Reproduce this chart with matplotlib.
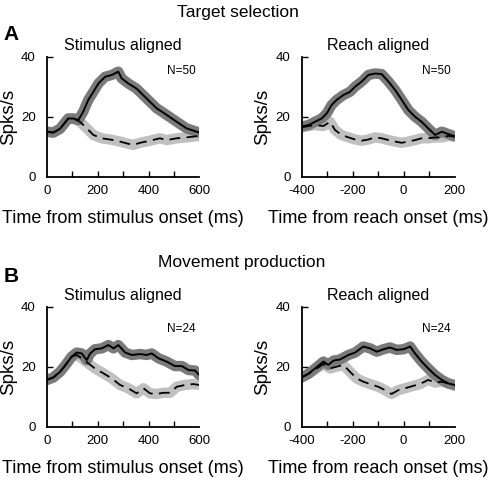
import matplotlib
matplotlib.use("Agg")
import matplotlib.pyplot as plt
import numpy as np

plt.rcParams['font.family'] = ['Liberation Sans', 'DejaVu Sans']

# ---------------- data ----------------
# Target selection, stimulus aligned (N=50)
a_stim_t_pref = [0, 25, 52, 84, 104, 124, 143, 163, 183, 203, 229, 255, 281, 294, 320, 352, 392, 432, 471, 511, 550, 600]
a_stim_pref   = [15, 14.7, 16, 19.4, 19.4, 18.9, 21.7, 25.6, 28.3, 31.1, 33.3, 33.9, 35, 32.8, 31.1, 29.4, 26.1, 22.8, 20.6, 18.3, 16.1, 14.7]
a_stim_t_null = [0, 25, 52, 84, 104, 130, 157, 183, 216, 248, 288, 314, 340, 367, 406, 445, 471, 511, 550, 600]
a_stim_null   = [15, 14.7, 16, 19.4, 19.4, 18.3, 16.1, 13.9, 12.8, 12.4, 11.7, 11.1, 10.6, 11.3, 12.0, 12.8, 12.2, 12.8, 13.1, 13.6]

# Target selection, reach aligned (N=50)
a_reach_t_pref = [-400, -373, -347, -321, -301, -282, -262, -236, -210, -190, -164, -138, -112, -86, -59, -33, -7, 19, 45, 71, 97, 124, 150, 176, 200]
a_reach_pref   = [16.7, 17.2, 18.3, 19.4, 21.1, 23.9, 25.6, 27.2, 28.3, 30, 31.7, 33.9, 34.4, 34.2, 31.7, 28.9, 25.6, 22.2, 20, 18.3, 16.1, 13.9, 15, 14.2, 13.5]
a_reach_t_null = [-400, -373, -347, -314, -288, -269, -243, -216, -190, -164, -138, -112, -86, -59, -33, -7, 19, 45, 71, 97, 124, 150, 176, 200]
a_reach_null   = [16.4, 16.9, 17.2, 16.9, 18.3, 15.6, 13.9, 13.1, 12.4, 12, 12.4, 13.1, 12.8, 12.2, 11.7, 11.3, 11.7, 12.2, 12.8, 12.8, 13.1, 13.1, 13.6, 13.3]

# Movement production, stimulus aligned (N=24)
b_stim_t_pref = [0, 25, 52, 78, 97, 117, 137, 157, 170, 189, 216, 242, 262, 281, 308, 334, 367, 393, 413, 439, 471, 504, 531, 557, 583, 600]
b_stim_pref   = [15.6, 16.4, 18.3, 21.1, 23.3, 24.7, 24.4, 22.2, 24.4, 25.8, 26.1, 27.2, 26.1, 27.2, 24.7, 23.9, 24.2, 23.9, 24.4, 22.8, 21.7, 20.2, 20.2, 18.9, 18.7, 17.2]
b_stim_t_null = [0, 25, 52, 78, 97, 117, 137, 163, 189, 222, 255, 288, 320, 353, 380, 406, 432, 458, 485, 511, 544, 576, 600]
b_stim_null   = [15.6, 16.4, 18.3, 21.1, 23.3, 23.9, 22.8, 21.1, 19.4, 17.8, 16.1, 13.9, 12.8, 11.1, 12.8, 11.1, 10.9, 11.3, 11.3, 13.3, 13.9, 14.2, 13.9]

# Movement production, reach aligned (N=24)
b_reach_t_pref = [-400, -373, -347, -314, -295, -275, -249, -216, -190, -158, -131, -105, -79, -53, -27, 0, 26, 45, 71, 97, 124, 150, 176, 200]
b_reach_pref   = [16.4, 17.6, 19.4, 21.7, 20.6, 22, 22.4, 23.9, 24.7, 26.7, 26.1, 25, 25.8, 26.4, 25.6, 25.8, 26.7, 24.4, 21.7, 19.4, 17.2, 15.6, 14.4, 13.9]
b_reach_t_null = [-400, -360, -314, -288, -262, -236, -210, -184, -158, -131, -99, -73, -47, -20, 6, 38, 64, 97, 124, 150, 176, 200]
b_reach_null   = [16.4, 18.3, 20.9, 19.4, 20, 20.6, 18.3, 16.1, 15, 14.2, 13.3, 12.2, 10.9, 12.2, 12.8, 13.6, 14.2, 15.6, 14.7, 15, 14.4, 13.6]

stim_ticks = [0, 100, 200, 300, 400, 500, 600]
stim_labels = ['0', '', '200', '', '400', '', '600']
reach_ticks = [-400, -300, -200, -100, 0, 100, 200]
reach_labels = ['-400', '', '-200', '', '0', '', '200']
y_ticks = [0, 20, 40]

panels = [
    ([0.0946, 0.6319, 0.3073, 0.25], a_stim_t_pref, a_stim_pref, a_stim_t_null, a_stim_null,
     'Stimulus aligned', 'Time from stimulus onset (ms)', 'N=50', stim_ticks, stim_labels, (528, 35.2)),
    ([0.6079, 0.6319, 0.3085, 0.25], a_reach_t_pref, a_reach_pref, a_reach_t_null, a_reach_null,
     'Reach aligned', 'Time from reach onset (ms)', 'N=50', reach_ticks, reach_labels, (130, 35.2)),
    ([0.0946, 0.1111, 0.3073, 0.25], b_stim_t_pref, b_stim_pref, b_stim_t_null, b_stim_null,
     'Stimulus aligned', 'Time from stimulus onset (ms)', 'N=24', stim_ticks, stim_labels, (530, 32.4)),
    ([0.6079, 0.1111, 0.3085, 0.25], b_reach_t_pref, b_reach_pref, b_reach_t_null, b_reach_null,
     'Reach aligned', 'Time from reach onset (ms)', 'N=24', reach_ticks, reach_labels, (130, 32.4)),
]

fig = plt.figure(figsize=(4.96, 4.8), dpi=100)

for rect, tp, yp, tn, yn, title, xlabel, ntext, xt, xl, npos in panels:
    ax = fig.add_axes(rect)
    # SEM bands (drawn as thick grey strokes)
    ax.plot(tn, yn, color='#c0c0c0', lw=7.5, solid_capstyle='round', solid_joinstyle='round', zorder=1)
    ax.plot(tp, yp, color='#7a7a7a', lw=7.5, solid_capstyle='round', solid_joinstyle='round', zorder=2)
    ax.plot(tn, yn, color='black', lw=1.3, dashes=(6, 3.5), zorder=3)
    ax.plot(tp, yp, color='black', lw=1.4, zorder=4)

    ax.set_xlim(xt[0], xt[-1])
    ax.set_ylim(0, 40)
    ax.set_xticks(xt)
    ax.set_xticklabels(xl)
    ax.set_yticks(y_ticks)
    ax.set_yticklabels([str(v) for v in y_ticks])
    ax.tick_params(axis='both', direction='in', length=4, width=1.0, labelsize=9.5, color='black')
    ax.tick_params(axis='x', pad=6)
    ax.tick_params(axis='y', pad=8)
    xticks_objs = ax.xaxis.get_major_ticks()
    xticks_objs[0].tick1line.set_visible(False)
    xticks_objs[-1].tick1line.set_visible(False)
    ax.yaxis.get_major_ticks()[0].tick1line.set_visible(False)

    for s in ['top', 'right']:
        ax.spines[s].set_visible(False)
    for s in ['left', 'bottom']:
        ax.spines[s].set_linewidth(1.3)

    ax.set_title(title, fontsize=11.5, pad=5)
    ax.set_xlabel(xlabel, fontsize=13, labelpad=9)
    ax.set_ylabel('Spks/s', fontsize=13.5, labelpad=3)
    ax.text(npos[0], npos[1], ntext, fontsize=8.5, ha='center', va='center')

fig.text(0.48, 1 - 12 / 480, 'Target selection', fontsize=12.5, ha='center', va='center')
fig.text(0.487, 1 - 263 / 480, 'Movement production', fontsize=12.5, ha='center', va='center')
fig.text(0.008, 1 - 34 / 480, 'A', fontsize=15, fontweight='bold', ha='left', va='center')
fig.text(0.008, 1 - 276 / 480, 'B', fontsize=15, fontweight='bold', ha='left', va='center')

fig.savefig('out.png', dpi=100)
